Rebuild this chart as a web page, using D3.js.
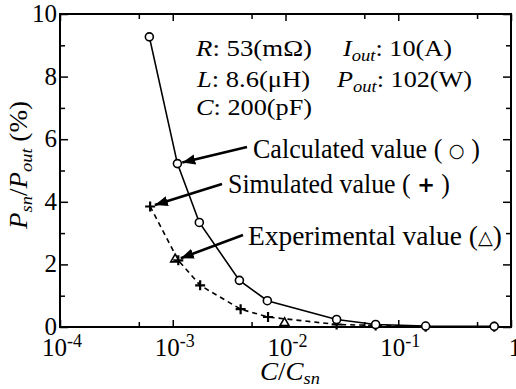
<!DOCTYPE html>
<html>
<head>
<meta charset="utf-8">
<script src="https://cdn.jsdelivr.net/npm/d3@7"></script>
<style>
  body { margin: 0; background: #fff; }
</style>
</head>
<body>
<script>
// values
var calcX = [6.2e-4, 1.1e-3, 1.72e-3, 3.9e-3, 6.9e-3, 2.84e-2, 6.3e-2, 0.175, 0.71];
var calcY = [9.27, 5.22, 3.34, 1.49, 0.84, 0.24, 0.08, 0.03, 0.02];
var simX = [6.3e-4, 1.12e-3, 1.75e-3, 4.0e-3, 7.0e-3, 2.84e-2, 6.3e-2, 0.175, 0.71];
var simY = [3.85, 2.13, 1.33, 0.57, 0.32, 0.08, 0.05, 0.01, 0.01];
var expX = [1.05e-3, 9.8e-3];
var expY = [2.13, 0.1];

var xMajor = [1e-4, 1e-3, 1e-2, 1e-1, 1];
var xMinor = [5e-4, 5e-3, 5e-2, 5e-1];
var xExp = ["-4", "-3", "-2", "-1", ""];
var yMajor = [0, 2, 4, 6, 8, 10];
var yMinor = [1, 3, 5, 7, 9];

var serif = "Liberation Serif";

var margin = { top: 14, right: 5, bottom: 62, left: 60 },
    width = 516 - margin.left - margin.right,
    height = 389 - margin.top - margin.bottom;

var svg = d3.select("body").append("svg")
    .attr("width", 516)
    .attr("height", 389)
    .style("font-family", serif);

var g = svg.append("g")
    .attr("transform", "translate(" + margin.left + "," + margin.top + ")");

var x = d3.scaleLog().domain([1e-4, 1]).range([0, width]);
var y = d3.scaleLinear().domain([0, 10]).range([height, 0]);

// ticks (inward, on all four sides)
function tickAxis(axis, vals, size, tr) {
    var a = g.append("g")
        .attr("transform", tr)
        .call(axis.tickValues(vals).tickSizeInner(size).tickSizeOuter(0).tickFormat(""));
    a.select(".domain").remove();
    a.selectAll("line").attr("stroke", "#000").attr("stroke-width", 1.5);
    return a;
}
tickAxis(d3.axisBottom(x), xMajor, -7, "translate(0," + height + ")");
tickAxis(d3.axisBottom(x), xMinor, -5, "translate(0," + height + ")");
tickAxis(d3.axisTop(x), xMajor, -7, "translate(0,0)");
tickAxis(d3.axisTop(x), xMinor, -5, "translate(0,0)");
tickAxis(d3.axisLeft(y), yMajor, -8, "translate(0,0)");
tickAxis(d3.axisLeft(y), yMinor, -5, "translate(0,0)");
tickAxis(d3.axisRight(y), yMajor, -8, "translate(" + width + ",0)");
tickAxis(d3.axisRight(y), yMinor, -5, "translate(" + width + ",0)");

// frame
g.append("rect")
    .attr("width", width).attr("height", height)
    .attr("fill", "none").attr("stroke", "#000").attr("stroke-width", 2);

// y tick labels
g.selectAll(".ylab")
    .data(yMajor)
    .enter().append("text")
    .attr("class", "ylab")
    .attr("x", -3)
    .attr("y", d => y(d) + 8)
    .attr("text-anchor", "end")
    .style("font-family", serif)
    .style("font-size", "25px")
    .text(d => d);

// x tick labels with superscripts
var xl = g.selectAll(".xlab")
    .data(xMajor)
    .enter().append("text")
    .attr("class", "xlab")
    .attr("x", (d, i) => x(d) + (xExp[i] ? 2 : 4))
    .attr("y", height + 29)
    .attr("text-anchor", "middle")
    .style("font-family", serif)
    .style("font-size", "25px");
xl.append("tspan").text((d, i) => xExp[i] ? "10" : "1");
xl.append("tspan")
    .attr("dy", -9)
    .style("font-size", "18px")
    .text((d, i) => xExp[i]);

// axis titles
var yt = svg.append("text")
    .attr("transform", "translate(27,165) rotate(-90)")
    .attr("text-anchor", "middle")
    .attr("textLength", 128)
    .attr("lengthAdjust", "spacingAndGlyphs")
    .style("font-family", serif)
    .style("font-size", "25px");
yt.append("tspan").style("font-style", "italic").text("P");
yt.append("tspan").attr("dy", 5).style("font-style", "italic").style("font-size", "17px").text("sn");
yt.append("tspan").attr("dy", -5).text("/");
yt.append("tspan").style("font-style", "italic").text("P");
yt.append("tspan").attr("dy", 5).style("font-style", "italic").style("font-size", "17px").text("out");
yt.append("tspan").attr("dy", -5).text(" (%)");

var xt = svg.append("text")
    .attr("x", 260).attr("y", 380)
    .attr("textLength", 60)
    .attr("lengthAdjust", "spacingAndGlyphs")
    .style("font-family", serif)
    .style("font-size", "25px");
xt.append("tspan").style("font-style", "italic").text("C");
xt.append("tspan").text("/");
xt.append("tspan").style("font-style", "italic").text("C");
xt.append("tspan").attr("dy", 4).style("font-style", "italic").style("font-size", "17px").text("sn");

// series lines
var calc = calcX.map((d, i) => [d, calcY[i]]);
var sim = simX.map((d, i) => [d, simY[i]]);
var exper = expX.map((d, i) => [d, expY[i]]);
var line = d3.line().x(d => x(d[0])).y(d => y(d[1]));

g.append("path").datum(sim).attr("d", line)
    .attr("fill", "none").attr("stroke", "#000").attr("stroke-width", 1.6)
    .attr("stroke-dasharray", "5,4");
g.append("path").datum(calc).attr("d", line)
    .attr("fill", "none").attr("stroke", "#000").attr("stroke-width", 1.6);

// markers
g.selectAll(".exp").data(exper).enter().append("path")
    .attr("class", "exp")
    .attr("d", d3.symbol().type(d3.symbolTriangle).size(34))
    .attr("transform", d => "translate(" + x(d[0]) + "," + (y(d[1]) - 1) + ")")
    .attr("fill", "#fff").attr("stroke", "#000").attr("stroke-width", 1.6);
g.selectAll(".sim").data(sim).enter().append("path")
    .attr("class", "sim")
    .attr("d", "M-5,0H5M0,-5V5")
    .attr("transform", d => "translate(" + x(d[0]) + "," + y(d[1]) + ")")
    .attr("stroke", "#000").attr("stroke-width", 2.2);
g.selectAll(".calc").data(calc).enter().append("circle")
    .attr("class", "calc")
    .attr("cx", d => x(d[0])).attr("cy", d => y(d[1]))
    .attr("r", 4)
    .attr("fill", "#fff").attr("stroke", "#000").attr("stroke-width", 1.6);

// annotations
svg.append("defs").append("marker")
    .attr("id", "ah")
    .attr("viewBox", "0 0 10 10")
    .attr("refX", 10).attr("refY", 5)
    .attr("markerWidth", 5).attr("markerHeight", 4)
    .attr("orient", "auto")
    .attr("preserveAspectRatio", "none")
    .append("path").attr("d", "M0,0L10,5L0,10z").attr("fill", "#000");

// parts: [text, kind]  kind: i = italic, s = italic subscript, m = marker glyph (with its size)
var params = [
    { x: 196, y: 56, w: 116, parts: [["R", "i"], [": 53(mΩ)", ""]] },
    { x: 197, y: 87, w: 113, parts: [["L", "i"], [": 8.6(μH)", ""]] },
    { x: 196, y: 115, w: 116, parts: [["C", "i"], [": 200(pF)", ""]] },
    { x: 343, y: 56, w: 109, parts: [["I", "i"], ["out", "s"], [": 10(A)", ""]] },
    { x: 337, y: 87, w: 135, parts: [["P", "i"], ["out", "s"], [": 102(W)", ""]] },
    { x: 253, y: 158, w: 227, parts: [["Calculated value ( ", ""], ["\u25CB", "m", 19], [" )", ""]] },
    { x: 228, y: 193, w: 222, parts: [["Simulated value ( ", ""], ["+", "m", 22], [" )", ""]] },
    { x: 248, y: 245, w: 254, parts: [["Experimental value (", ""], ["\u25B3", "m", 19], [")", ""]] }
];
params.forEach(function (p, k) {
    var t = svg.append("text").attr("x", p.x).attr("y", p.y)
        .attr("textLength", p.w)
        .attr("lengthAdjust", "spacingAndGlyphs")
        .style("font-family", serif).style("font-size", k < 5 ? "24px" : "27px");
    var shift = 0;
    p.parts.forEach(function (q) {
        var s = t.append("tspan").text(q[0]);
        if (shift) { s.attr("dy", -shift); shift = 0; }
        if (q[1] === "i") s.style("font-style", "italic");
        if (q[1] === "m") {
            s.style("font-family", "DejaVu Sans").style("font-size", q[2] + "px")
                .style("font-weight", "bold").attr("dy", -1);
            shift = -1;
        }
        if (q[1] === "s") {
            s.style("font-style", "italic").style("font-size", "17px").attr("dy", 5);
            shift = 5;
        }
    });
});

var arrows = [
    { x0: 247, y0: 147, pt: calc[1], off: 5 },
    { x0: 222, y0: 184, pt: sim[0], off: 5 },
    { x0: 243, y0: 235, pt: exper[0], off: 6 }
];
arrows.forEach(function (n) {
    var px = x(n.pt[0]) + margin.left, py = y(n.pt[1]) + margin.top;
    var dx = n.x0 - px, dy = n.y0 - py, len = Math.sqrt(dx * dx + dy * dy);
    svg.append("line")
        .attr("x1", n.x0).attr("y1", n.y0)
        .attr("x2", px + dx / len * n.off).attr("y2", py + dy / len * n.off)
        .attr("stroke", "#000").attr("stroke-width", 2.6)
        .attr("marker-end", "url(#ah)");
});
</script>
</body>
</html>
